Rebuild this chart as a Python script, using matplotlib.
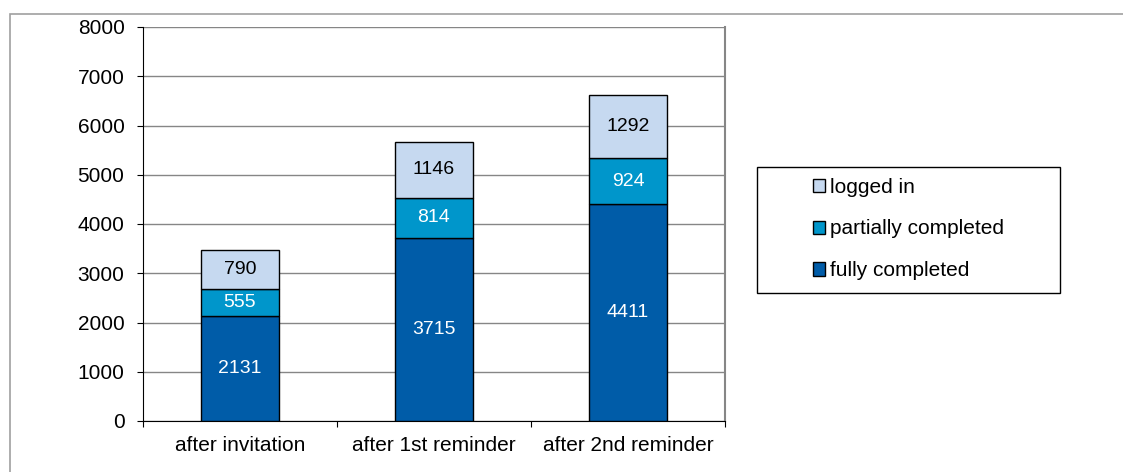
import matplotlib
matplotlib.use("Agg")
import matplotlib.pyplot as plt
from matplotlib.patches import Rectangle

plt.rcParams['font.family'] = ['Liberation Sans', 'DejaVu Sans']

# Daten
categories = ['after invitation', 'after 1st reminder', 'after 2nd reminder']
fully = [2131, 3715, 4411]
partially = [555, 814, 924]
logged = [790, 1146, 1292]

series_names = ['fully completed', 'partially completed', 'logged in']
colors = ['#005CA8', '#0096CB', '#C6D9F0']
text_colors = ['white', 'white', 'black']

fig = plt.figure(figsize=(11.23, 4.72), dpi=100)

# Rahmen um den Diagrammbereich
fig.patches.append(Rectangle((10 / 1123, -0.1), 1.2, 1 - 14 / 472 + 0.1,
                             transform=fig.transFigure, fill=False,
                             edgecolor='#A0A0A0', linewidth=1.2))

ax = fig.add_axes([143 / 1123, 1 - 421 / 472, (725 - 143) / 1123, (421 - 27) / 472])

x = list(range(len(categories)))
bottom = [0] * len(categories)
handles = []
for vals, name, col, tc in zip([fully, partially, logged], series_names, colors, text_colors):
    bars = ax.bar(x, vals, width=0.4, bottom=bottom, color=col, edgecolor='black',
                  linewidth=1.0, label=name, zorder=3)
    handles.append(bars)
    for xi, b, v in zip(x, bottom, vals):
        ax.text(xi, b + v / 2, str(v), ha='center', va='center', color=tc,
                fontsize=14, zorder=4)
    bottom = [b + v for b, v in zip(bottom, vals)]

ax.set_xlim(-0.5, 2.5)
ax.set_ylim(0, 8000)
ax.set_yticks(range(0, 8001, 1000))
ax.yaxis.grid(True, color='#868686', linewidth=1.0, zorder=0)

# Kategorien-Ticks an den Grenzen, Beschriftung in der Mitte
ax.set_xticks([-0.5, 0.5, 1.5, 2.5])
ax.set_xticklabels([])
ax.set_xticks(x, minor=True)
ax.set_xticklabels(categories, minor=True)
ax.tick_params(axis='x', which='minor', length=0, pad=11, labelsize=15)
ax.tick_params(axis='x', which='major', length=4, color='black')
ax.tick_params(axis='y', length=4.3, pad=9, labelsize=15)

ax.spines['top'].set_visible(False)
ax.spines['right'].set_color('#868686')
ax.spines['right'].set_linewidth(1.5)
ax.spines['left'].set_color('black')
ax.spines['bottom'].set_color('black')

# Legendenrahmen separat, Inhalt zentriert
fig.patches.append(Rectangle((757 / 1123, 1 - 293 / 472), (1060 - 757) / 1123, 126 / 472,
                             transform=fig.transFigure, fill=False,
                             edgecolor='black', linewidth=1.0))
leg = ax.legend(handles[::-1], [h.get_label() for h in handles[::-1]],
                loc='center', bbox_to_anchor=(908.5 / 1123, 1 - 229 / 472),
                bbox_transform=fig.transFigure, frameon=False,
                fontsize=15, handlelength=0.6, handleheight=0.6,
                handletextpad=0.25, labelspacing=1.1, borderpad=0, borderaxespad=0)

fig.savefig('out.png', dpi=100)
